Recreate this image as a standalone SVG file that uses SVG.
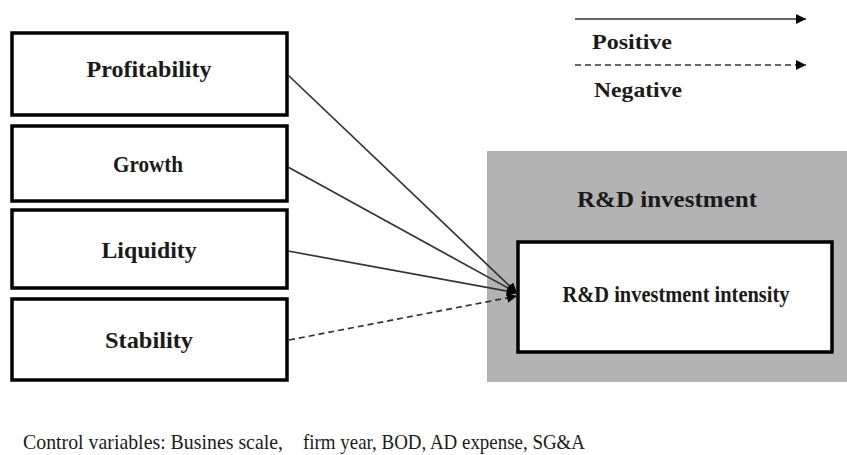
<svg xmlns="http://www.w3.org/2000/svg" width="847" height="455" viewBox="0 0 847 455">
<defs>
<style>
.box{fill:#fff;stroke:#000;stroke-width:3.5}
.lbl{font-family:"Liberation Serif",serif;font-weight:bold;fill:#1a1a1a;text-anchor:middle}
.ctl{font-family:"Liberation Serif",serif;fill:#1a1a1a;font-size:22px}
.con{fill:none;stroke:#333;stroke-width:1.7}
.dash{stroke-dasharray:6 4}
</style>
<marker id="ah" viewBox="0 0 10 10" refX="10" refY="5" markerWidth="12" markerHeight="10" markerUnits="userSpaceOnUse" orient="auto">
<path d="M0,0 L10,5 L0,10 z" fill="#000"/>
</marker>
</defs>
<rect width="847" height="455" fill="#fff"/>
<g id="target-group">
<rect x="487" y="151" width="360" height="231" fill="#b3b3b3"/>
<text class="lbl" x="667" y="207" font-size="22.5" textLength="180" lengthAdjust="spacingAndGlyphs">R&amp;D investment</text>
</g>
<g id="intensity">
<rect class="box" x="518" y="242" width="314" height="110"/>
<text class="lbl" x="676" y="302" font-size="22.5" textLength="227" lengthAdjust="spacingAndGlyphs">R&amp;D investment intensity</text>
</g>
<g id="profitability">
<rect class="box" x="12" y="33" width="275" height="82"/>
<text class="lbl" x="149" y="77" font-size="24" textLength="125" lengthAdjust="spacingAndGlyphs">Profitability</text>
</g>
<g id="growth">
<rect class="box" x="12" y="126" width="275" height="75"/>
<text class="lbl" x="148" y="172" font-size="24" textLength="70" lengthAdjust="spacingAndGlyphs">Growth</text>
</g>
<g id="liquidity">
<rect class="box" x="12" y="210" width="275" height="78"/>
<text class="lbl" x="149" y="258" font-size="24" textLength="95" lengthAdjust="spacingAndGlyphs">Liquidity</text>
</g>
<g id="stability">
<rect class="box" x="12" y="299" width="275" height="81"/>
<text class="lbl" x="149" y="348" font-size="24" textLength="88" lengthAdjust="spacingAndGlyphs">Stability</text>
</g>
<g id="connectors">
<line class="con" x1="288" y1="75" x2="517" y2="293" marker-end="url(#ah)"/>
<line class="con" x1="288" y1="167" x2="517" y2="293" marker-end="url(#ah)"/>
<line class="con" x1="288" y1="251" x2="517" y2="293" marker-end="url(#ah)"/>
<line class="con dash" stroke-width="2.2" x1="289" y1="340" x2="517" y2="296" marker-end="url(#ah)"/>
</g>
<g id="legend">
<line class="con" x1="575" y1="19" x2="806" y2="19" marker-end="url(#ah)"/>
<text class="lbl" x="592" y="49" font-size="22" style="text-anchor:start" textLength="80" lengthAdjust="spacingAndGlyphs">Positive</text>
<line class="con dash" x1="575" y1="65" x2="806" y2="65" marker-end="url(#ah)"/>
<text class="lbl" x="594" y="97" font-size="22" style="text-anchor:start" textLength="88" lengthAdjust="spacingAndGlyphs">Negative</text>
</g>
<g id="controls">
<text class="ctl" x="23" y="449" textLength="260" lengthAdjust="spacingAndGlyphs">Control variables: Busines scale,</text>
<text class="ctl" x="303" y="449" textLength="282" lengthAdjust="spacingAndGlyphs">firm year, BOD, AD expense, SG&amp;A</text>
</g>
</svg>
